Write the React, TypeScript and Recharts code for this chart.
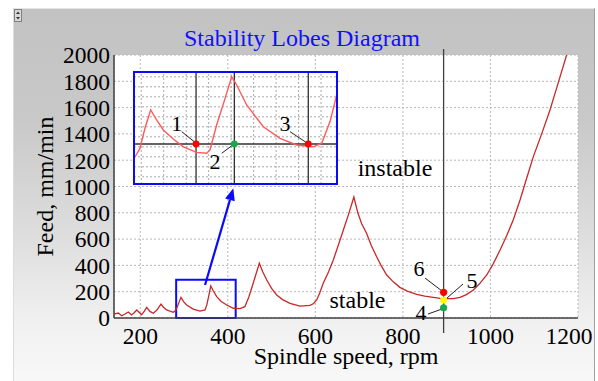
import React from 'react';
import {
  LineChart, Line, XAxis, YAxis, CartesianGrid, ReferenceLine, ReferenceDot, ReferenceArea, Label,
} from 'recharts';

// ---------- Main stability lobe curve ----------
const speedRpm = [
  140, 149.8, 157.6, 165, 172.7, 180, 186, 192, 203, 209, 214.7, 222, 229.8, 238, 247.4, 253, 260, 275.5,
  280, 283, 288, 293, 299, 306, 321, 336.5, 348, 352, 356, 361, 367, 374.6, 385, 397.5, 412.6, 427.9,
  439, 448, 458, 465, 472, 480, 489, 500, 511.7, 525, 542, 565, 587.8, 596, 603, 610, 618, 630, 641,
  652, 664, 676, 688, 697, 706, 717, 728, 740, 750, 763, 778, 793, 810, 831.6, 850, 869.5, 885, 900,
  915, 930.5, 945, 961, 975, 991.5, 1006, 1022, 1037, 1052, 1067.6, 1082, 1098, 1117, 1136, 1155, 1174,
];
const feedLimit = [
  30, 38, 17, 30, 46, 23, 40, 61, 25, 50, 81, 50, 36, 60, 106, 82, 61, 43,
  55, 73, 115, 157, 125, 99, 68, 53, 61, 100, 160, 243, 205, 162, 125, 99, 74, 71,
  86, 160, 264, 340, 416, 350, 289, 225, 175, 140, 112, 91, 96, 110, 137, 190, 264, 350, 441,
  550, 669, 790, 920, 800, 715, 644, 550, 466, 400, 327, 275, 233, 205, 180, 166, 157, 150, 147,
  148, 157, 178, 213, 260, 327, 410, 517, 625, 745, 897, 1055, 1227, 1400, 1582, 1790, 2000,
];
const mainData = speedRpm.map((s, i) => ({ rpm: s, feed: feedLimit[i] }));

const xTicks = [200, 400, 600, 800, 1000, 1200];
const yTicks = [0, 200, 400, 600, 800, 1000, 1200, 1400, 1600, 1800, 2000];

// chosen spindle speed and test feeds (points 4, 5, 6)
const chosenSpeed = 893;
const testFeeds = [78, 137, 195];
const testColors = ['#19a84a', '#ffff00', '#ff0000'];

// ---------- Inset (zoomed view) ----------
const insetRpm = [
  280.7, 284.1, 287.6, 291.5, 295.6, 300.2, 307.1, 314, 323.2, 330.1, 332.4, 337, 342.8, 347.4,
  350.8, 357.7, 369.2, 380.7, 392.2, 403.7, 409.5, 415.2, 419.8,
];
const insetFeed = [
  49.5, 71, 122, 167, 142, 117, 94.5, 75, 61, 59, 67, 129.5, 196, 250,
  229.5, 179.5, 125, 96, 79.5, 75, 84, 138, 204.5,
];
const insetData = insetRpm.map((s, i) => ({ rpm: s, feed: insetFeed[i] }));
const insetXTicks = [285, 300.5, 316, 331.5, 347, 362.5, 378, 393.5, 409];
const insetYTicks = [0, 25, 50, 75, 100, 125, 150, 175, 200, 225, 250];
const insetXDomain = [280, 420];
const insetYDomain = [-18, 262];
const insetFeedLevel = 82;
const insetSpeeds = [322.8, 349.2, 400.2];
const insetColors = ['#ff0000', '#19a84a', '#ff0000'];

const SERIF = "'Liberation Serif', 'Times New Roman', serif";

const textShape = (txt: string, size = 22, anchor = 'middle', dy = '0.35em') => (p: any) => (
  <text x={p.cx} y={p.cy} dy={dy} textAnchor={anchor} style={{ fontFamily: SERIF }} fontSize={size} fill="#000">
    {txt}
  </text>
);

const arrowShape = (p: any) => {
  const { x1, y1, x2, y2 } = p;
  const dx = x2 - x1, dy = y2 - y1;
  const len = Math.sqrt(dx * dx + dy * dy);
  const ux = dx / len, uy = dy / len;
  const hl = 12, hw = 5;
  const bx = x2 - ux * hl, by = y2 - uy * hl;
  const pts = `${x2},${y2} ${bx - uy * hw},${by + ux * hw} ${bx + uy * hw},${by - ux * hw}`;
  return (
    <g>
      <line x1={x1} y1={y1} x2={bx} y2={by} stroke="#0a0aff" strokeWidth={2.2} />
      <polygon points={pts} fill="#0a0aff" />
    </g>
  );
};

// dashed grid line drawn at the scaled position of a reference value
const gridShape = (p: any) => (
  <line x1={p.x1} y1={p.y1} x2={p.x2} y2={p.y2} stroke="#a9a9a9" strokeWidth={1} strokeDasharray="2 2" />
);

const XTick = (p: any) => {
  const v = p.payload.value;
  const x = v === 1200 ? p.x - 9 : p.x;
  return (
    <text x={x} y={p.y} dy="0.71em" textAnchor="middle" style={{ fontFamily: SERIF }} fontSize={23.5} fill="#000">
      {v}
    </text>
  );
};

const YTick = (p: any) => (
  <text x={p.x} y={p.y} dy="0.355em" textAnchor="end" style={{ fontFamily: SERIF }} fontSize={23.5} fill="#000">
    {p.payload.value}
  </text>
);

export default function App() {
  return (
    <div style={{ position: 'absolute', left: 0, top: 0, width: 598, height: 381, overflow: 'hidden', background: '#fff' }}>
      {/* gray panel */}
      <div
        style={{
          position: 'absolute', left: 13, top: 8, width: 582, height: 380, boxSizing: 'border-box',
          background: 'linear-gradient(to bottom, #c2c2c2 0%, #c9c9c9 30%, #dedede 60%, #f2f2f2 85%, #f8f8f8 100%)',
          borderLeft: '1px solid #dcdcdc', borderTop: '1px solid #e4e4e4', borderRight: '1px solid #a0a0a0',
        }}
      />
      {/* small corner control */}
      <div style={{ position: 'absolute', left: 14, top: 9, width: 8, height: 13, boxSizing: 'border-box', border: '1px solid #808080', background: '#d8d8d8' }}>
        <svg width={6} height={11} style={{ position: 'absolute', left: 0, top: 0 }}>
          <polygon points="3,1.5 5,4 1,4" fill="#333" />
          <polygon points="3,9.5 5,7 1,7" fill="#333" />
        </svg>
      </div>
      {/* title */}
      <div
        style={{
          position: 'absolute', left: 0, top: 26, width: 604, textAlign: 'center', fontFamily: SERIF,
          fontSize: 24, lineHeight: '24px', color: '#1010ff', whiteSpace: 'nowrap',
        }}
      >
        Stability Lobes Diagram
      </div>

      <div style={{ position: 'absolute', left: 0, top: 0 }}>
        <LineChart width={598} height={381} data={mainData} margin={{ top: 55, right: 20, bottom: 0, left: 0 }}>
          <CartesianGrid stroke="#b8b8b8" strokeDasharray="2 2" fill="#ffffff" fillOpacity={1} />
          <XAxis
            dataKey="rpm" type="number" domain={[140, 1200]} ticks={xTicks} interval={0} height={63}
            tickSize={0} tickMargin={9} tick={<XTick />}
            axisLine={{ stroke: '#404040', strokeWidth: 1.5 }}
          >
            <Label
              content={(p: any) => (
                <text x={p.viewBox.x + p.viewBox.width / 2} y={p.viewBox.y + 46} textAnchor="middle" style={{ fontFamily: SERIF }} fontSize={24} fill="#000">
                  Spindle speed, rpm
                </text>
              )}
            />
          </XAxis>
          <YAxis
            type="number" domain={[0, 2000]} ticks={yTicks} interval={0} width={114} tickSize={0} tickMargin={4}
            tick={<YTick />}
            axisLine={{ stroke: '#404040', strokeWidth: 1.5 }}
          >
            <Label
              content={(p: any) => {
                const cx = p.viewBox.x + 53;
                const cy = p.viewBox.y + p.viewBox.height / 2;
                return (
                  <text x={cx} y={cy} transform={`rotate(-90, ${cx}, ${cy})`} textAnchor="middle" style={{ fontFamily: SERIF }} fontSize={24} fill="#000">
                    Feed, mm/min
                  </text>
                );
              }}
            />
          </YAxis>

          <Line type="linear" dataKey="feed" stroke="#c82828" strokeWidth={1.3} dot={false} isAnimationActive={false} />

          {/* zoom box and arrow */}
          <ReferenceArea x1={282} x2={418} y1={0} y2={290} ifOverflow="visible" fill="none" fillOpacity={0} stroke="#0a0aff" strokeWidth={2} />
          <ReferenceLine segment={[{ x: 348, y: 251 }, { x: 412.6, y: 986 }]} ifOverflow="visible" shape={arrowShape} />

          {/* chosen spindle speed line */}
          <ReferenceLine segment={[{ x: chosenSpeed, y: -114 }, { x: chosenSpeed, y: 2046 }]} ifOverflow="visible" stroke="#404040" strokeWidth={1.3} />

          {/* leader lines */}
          <ReferenceLine segment={[{ x: 850.5, y: 304 }, { x: 889.4, y: 205 }]} ifOverflow="visible" stroke="#222" strokeWidth={1} />
          <ReferenceLine segment={[{ x: 937.3, y: 258.5 }, { x: 900.8, y: 152 }]} ifOverflow="visible" stroke="#222" strokeWidth={1} />
          <ReferenceLine segment={[{ x: 857.4, y: 30.4 }, { x: 889.4, y: 68.4 }]} ifOverflow="visible" stroke="#222" strokeWidth={1} />

          {testFeeds.map((f, i) => (
            <ReferenceDot key={i} x={chosenSpeed} y={f} r={3.6} fill={testColors[i]} stroke="none" ifOverflow="visible" />
          ))}

          <ReferenceDot x={836.8} y={380} r={0} ifOverflow="visible" shape={textShape('6')} />
          <ReferenceDot x={957.9} y={289} r={0} ifOverflow="visible" shape={textShape('5')} />
          <ReferenceDot x={841.4} y={45.6} r={0} ifOverflow="visible" shape={textShape('4')} />

          <ReferenceDot x={782} y={1080} r={0} ifOverflow="visible" shape={textShape('instable', 24, 'middle', '0')} />
          <ReferenceDot x={696.3} y={76} r={0} ifOverflow="visible" shape={textShape('stable', 24, 'middle', '0')} />
        </LineChart>
      </div>

      {/* inset */}
      <div style={{ position: 'absolute', left: 134, top: 72, width: 203, height: 112, background: '#fff' }}>
        <LineChart width={203} height={112} data={insetData} margin={{ top: 0, right: 0, bottom: 0, left: 0 }}>
          <XAxis dataKey="rpm" type="number" domain={insetXDomain} ticks={insetXTicks} interval={0} height={0} tick={false} tickLine={false} axisLine={false} />
          <YAxis type="number" domain={insetYDomain} ticks={insetYTicks} interval={0} width={0} tick={false} tickLine={false} axisLine={false} />
          {insetXTicks.map((t) => (
            <ReferenceLine key={'gx' + t} x={t} ifOverflow="visible" shape={gridShape} />
          ))}
          {insetYTicks.map((t) => (
            <ReferenceLine key={'gy' + t} y={t} ifOverflow="visible" shape={gridShape} />
          ))}
          <ReferenceLine y={insetFeedLevel} stroke="#303030" strokeWidth={1.3} />
          {insetSpeeds.map((s, i) => (
            <ReferenceLine key={'v' + i} x={s} stroke="#303030" strokeWidth={1.3} />
          ))}
          <Line type="linear" dataKey="feed" stroke="#ff5a5a" strokeWidth={1.4} dot={false} isAnimationActive={false} />
          <ReferenceLine segment={[{ x: 312.9, y: 112.8 }, { x: 322.1, y: 86.3 }]} stroke="#222" strokeWidth={1} />
          <ReferenceLine segment={[{ x: 340.5, y: 58.8 }, { x: 348.1, y: 79.5 }]} stroke="#222" strokeWidth={1} />
          <ReferenceLine segment={[{ x: 387.6, y: 112.8 }, { x: 398.6, y: 86.3 }]} stroke="#222" strokeWidth={1} />
          {insetSpeeds.map((s, i) => (
            <ReferenceDot key={'d' + i} x={s} y={insetFeedLevel} r={3.4} fill={insetColors[i]} stroke="none" />
          ))}
          <ReferenceDot x={309.4} y={133.8} r={0} shape={textShape('1')} />
          <ReferenceDot x={335.9} y={37.8} r={0} shape={textShape('2')} />
          <ReferenceDot x={384.1} y={133.8} r={0} shape={textShape('3')} />
        </LineChart>
      </div>
      <div style={{ position: 'absolute', left: 133, top: 71, width: 205, height: 114, boxSizing: 'border-box', border: '2px solid #0a0aff', pointerEvents: 'none' }} />
    </div>
  );
}
